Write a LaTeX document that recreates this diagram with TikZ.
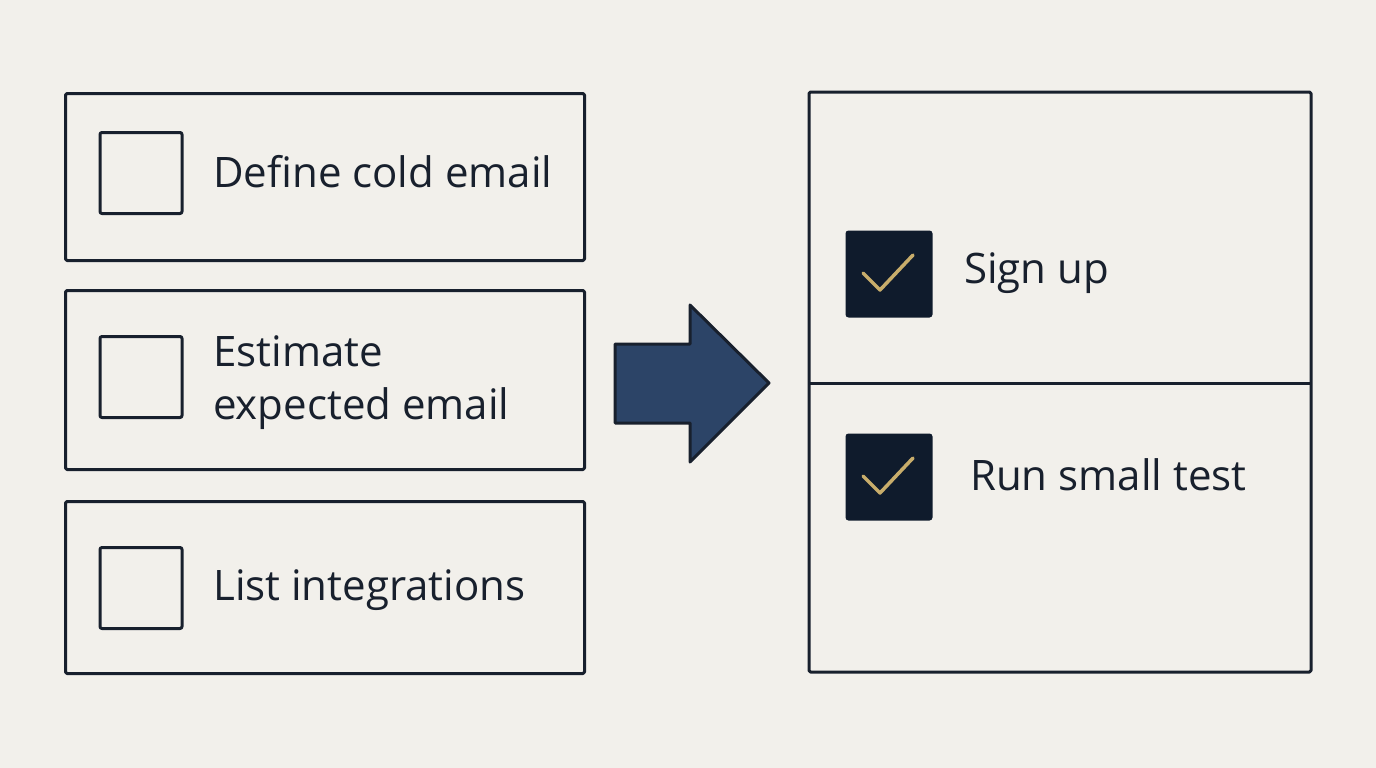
\documentclass[tikz,border=0pt]{standalone}
\usepackage{fontspec}
\setmainfont{Open Sans}
\usepackage{tikz}
\usetikzlibrary{arrows.meta}
\definecolor{paper}{HTML}{F2F0EB}
\definecolor{ink}{HTML}{18202D}
\definecolor{navy}{HTML}{0F1B2C}
\definecolor{arrowblue}{HTML}{2C4467}
\definecolor{gold}{HTML}{C8AD6B}
\begin{document}
\begin{tikzpicture}[x=1pt,y=-1pt,line join=round,
  itembox/.style={draw=ink,line width=3pt,rounded corners=1.5pt,minimum width=519pt,anchor=north west,inner sep=0pt},
  tickbox/.style={draw=ink,line width=3pt,rounded corners=2pt,minimum width=82pt,minimum height=81pt,inner sep=0pt},
  donebox/.style={fill=navy,rounded corners=3pt,minimum width=87pt,minimum height=87pt,inner sep=0pt},
  label/.style={anchor=base west,inner sep=0pt,text=ink,font=\fontsize{42}{53}\selectfont}]
\fill[paper] (0,0) rectangle (1376,768);
\useasboundingbox (0,0) rectangle (1376,768);
\node[itembox,minimum height=167pt] (define) at (64,92) {};
\node[itembox,minimum height=179pt] (estimate) at (64,289) {};
\node[itembox,minimum height=172pt] (integrations) at (64,500) {};
\node[tickbox] (tickA) at (141,173) {};
\node[tickbox] (tickB) at (141,377) {};
\node[tickbox] (tickC) at (141,588) {};
\node[label] (defineText) at (213,187) {Define cold email};
\node[label] (estimateText) at (213,366) {Estimate};
\node[label] (expectedText) at (213,419) {expected email};
\node[label] (integrationsText) at (213,600) {List integrations};
\draw[ink,line width=3pt,rounded corners=1.5pt] (809,92) rectangle (1311,672);
\draw[ink,line width=3pt] (809,383) -- (1311,383);
\node[donebox] (doneA) at (889,274) {};
\node[donebox] (doneB) at (889,477) {};
\draw[gold,line width=3.5pt,line cap=round] ([shift={(-26,-1)}]doneA.center) -- ([shift={(-9,16)}]doneA.center) -- ([shift={(24,-19)}]doneA.center);
\draw[gold,line width=3.5pt,line cap=round] ([shift={(-26,-1)}]doneB.center) -- ([shift={(-9,16)}]doneB.center) -- ([shift={(24,-19)}]doneB.center);
\node[label] (signText) at (964,283) {Sign up};
\node[label] (testText) at (970,490) {Run small test};
\draw[ink,fill=arrowblue,line width=3pt] (615,344) -- (690,344) -- (690,305) -- (769,383) -- (690,462) -- (690,423) -- (615,423) -- cycle;
\end{tikzpicture}
\end{document}
